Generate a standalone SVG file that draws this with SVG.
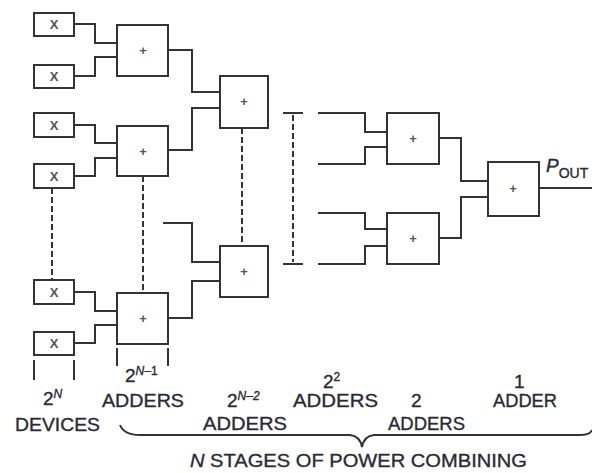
<svg xmlns="http://www.w3.org/2000/svg" width="592" height="473" viewBox="0 0 592 473">
<style>
.box{fill:#fff;stroke:#333;stroke-width:2}
.w{fill:none;stroke:#333;stroke-width:2}
.d{fill:none;stroke:#333;stroke-width:2;stroke-dasharray:6 3}
.sym{font-family:"Liberation Sans",Arial,sans-serif;font-size:13px;fill:#555;text-anchor:middle;font-weight:bold}
.t{font-family:"Liberation Sans",Arial,sans-serif;font-size:19px;fill:#2a2a33;stroke:#2a2a33;stroke-width:0.35}
.s{font-size:12px}
</style>
<rect width="592" height="473" fill="#fff"/>
<g id="connectors">
<path class="w" d="M74,24 H95 V43 H117"/>
<path class="w" d="M74,76 H95 V57 H117"/>
<path class="w" d="M74,125 H95 V143 H117"/>
<path class="w" d="M74,176 H95 V158 H117"/>
<path class="w" d="M74,292 H95 V311 H117"/>
<path class="w" d="M74,343 H95 V325 H117"/>
<path class="w" d="M168,50 H192 V92 H220"/>
<path class="w" d="M168,150 H192 V108 H220"/>
<path class="w" d="M163,223 H192 V262 H220"/>
<path class="w" d="M168,318 H192 V281 H220"/>
<path class="w" d="M318,113 H365 V132 H387"/>
<path class="w" d="M318,164 H365 V147 H387"/>
<path class="w" d="M318,213 H365 V229 H387"/>
<path class="w" d="M318,264 H365 V246 H387"/>
<path class="w" d="M439,138 H461 V181 H488"/>
<path class="w" d="M439,238 H461 V197 H488"/>
<path class="w" d="M539,188 H592"/>
<path class="d" d="M52,188 V280"/>
<path class="d" d="M143,176 V293"/>
<path class="d" d="M242,128 V246"/>
<path class="d" d="M293,115 V262"/>
<path class="w" d="M283,113 H303 M283,264 H303"/>
<path class="w" d="M34,360 V380 M74,360 V380 M117,348 V366 M168,348 V366"/>
<path class="w" stroke-width="1.6" d="M120,425 Q124,435 140,435 H350 Q360,436 362,447 Q364,436 374,435 H580 Q590,435 592,430"/>
</g>
<g id="x1"><rect class="box" x="34" y="13" width="40" height="23"/><text class="sym" x="54" y="29">X</text></g>
<g id="x2"><rect class="box" x="34" y="65" width="40" height="23"/><text class="sym" x="54" y="81">X</text></g>
<g id="x3"><rect class="box" x="34" y="113" width="40" height="24"/><text class="sym" x="54" y="130">X</text></g>
<g id="x4"><rect class="box" x="34" y="164" width="40" height="24"/><text class="sym" x="54" y="181">X</text></g>
<g id="x5"><rect class="box" x="34" y="280" width="40" height="24"/><text class="sym" x="54" y="297">X</text></g>
<g id="x6"><rect class="box" x="34" y="332" width="40" height="23"/><text class="sym" x="54" y="348">X</text></g>
<g id="a1"><rect class="box" x="117" y="25" width="51" height="51"/><text class="sym" x="143" y="55">+</text></g>
<g id="a2"><rect class="box" x="117" y="126" width="51" height="50"/><text class="sym" x="143" y="156">+</text></g>
<g id="a5"><rect class="box" x="117" y="293" width="51" height="51"/><text class="sym" x="143" y="323">+</text></g>
<g id="a3"><rect class="box" x="220" y="76" width="48" height="52"/><text class="sym" x="244" y="106">+</text></g>
<g id="a4"><rect class="box" x="220" y="246" width="48" height="51"/><text class="sym" x="244" y="276">+</text></g>
<g id="a6"><rect class="box" x="387" y="113" width="52" height="51"/><text class="sym" x="413" y="143">+</text></g>
<g id="a7"><rect class="box" x="387" y="213" width="52" height="51"/><text class="sym" x="413" y="243">+</text></g>
<g id="a8"><rect class="box" x="488" y="162" width="51" height="54"/><text class="sym" x="513" y="193">+</text></g>
<g id="labels">
<text class="t" x="546" y="172" font-style="italic" font-size="21">P<tspan font-style="normal" font-size="14" dy="6">OUT</tspan></text>
<text class="t" x="43" y="405" font-size="18">2<tspan class="s" font-style="italic" dy="-7">N</tspan></text>
<text class="t" x="15" y="431" textLength="85" lengthAdjust="spacingAndGlyphs">DEVICES</text>
<text class="t" x="125" y="382" font-size="18">2<tspan class="s" font-style="italic" dy="-7">N</tspan><tspan class="s" dy="0">–1</tspan></text>
<text class="t" x="102" y="407" textLength="82" lengthAdjust="spacingAndGlyphs">ADDERS</text>
<text class="t" x="227" y="407" font-size="18">2<tspan class="s" font-style="italic" dy="-7">N–2</tspan></text>
<text class="t" x="203" y="430" textLength="84" lengthAdjust="spacingAndGlyphs">ADDERS</text>
<text class="t" x="323" y="388" font-size="18">2<tspan class="s" dy="-7">2</tspan></text>
<text class="t" x="293" y="407" textLength="85" lengthAdjust="spacingAndGlyphs">ADDERS</text>
<text class="t" x="411" y="407" font-size="18">2</text>
<text class="t" x="388" y="430" textLength="77" lengthAdjust="spacingAndGlyphs">ADDERS</text>
<text class="t" x="514" y="388" font-size="18">1</text>
<text class="t" x="493" y="407" textLength="64" lengthAdjust="spacingAndGlyphs">ADDER</text>
<text class="t" x="190" y="467" textLength="337" lengthAdjust="spacingAndGlyphs"><tspan font-style="italic">N</tspan> STAGES OF POWER COMBINING</text>
</g>
</svg>
